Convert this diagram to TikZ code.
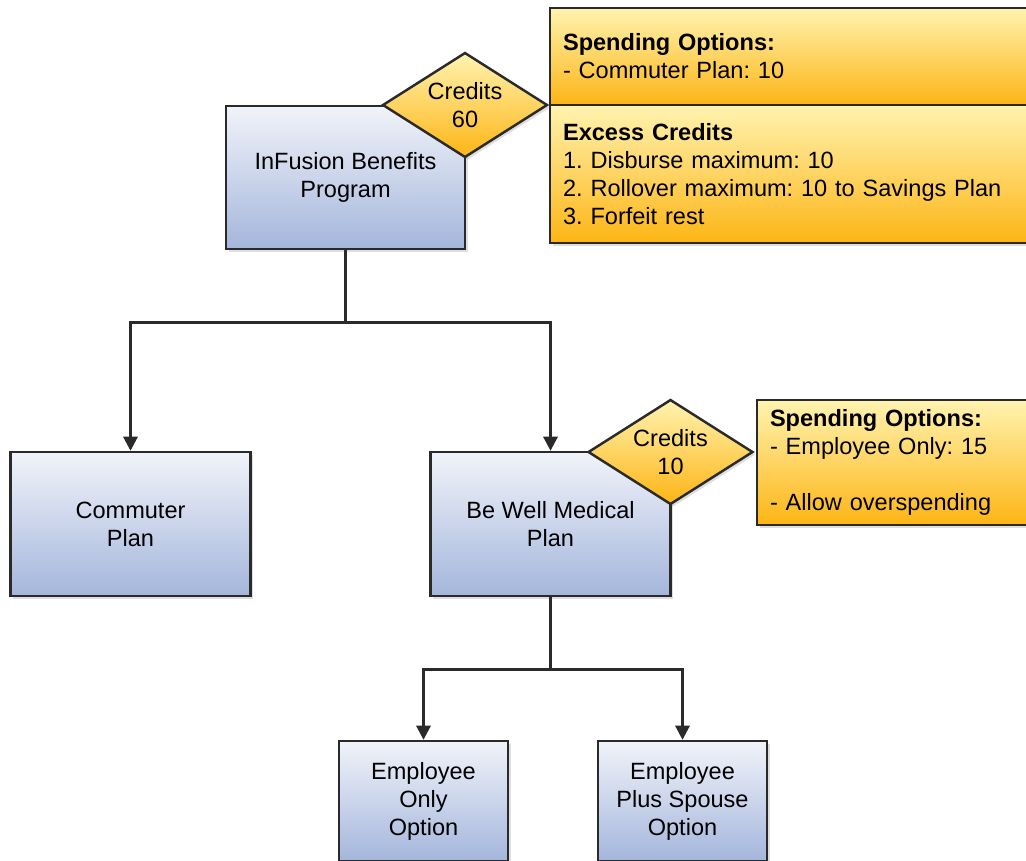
\documentclass[tikz,border=0pt]{standalone}
\usepackage{fontspec}
\setmainfont{Liberation Sans}
\usetikzlibrary{shapes.geometric,arrows.meta,shadows}
\definecolor{bluetop}{HTML}{F1F3F9}
\definecolor{bluebot}{HTML}{A4B6DC}
\definecolor{yeltop}{HTML}{FFF3B0}
\definecolor{yelbot}{HTML}{FDB515}
\definecolor{linegray}{HTML}{2A2A2A}
\tikzset{
  plan/.style={draw=linegray, line width=1.4pt, top color=bluetop, bottom color=bluebot,
    align=center, inner sep=0pt, drop shadow={shadow xshift=1.5pt, shadow yshift=-1.5pt, opacity=0.25}},
  credits/.style={diamond, aspect=1.57, draw=linegray, line width=1.4pt, top color=yeltop, bottom color=yelbot,
    align=center, inner sep=0pt, minimum width=3.3cm, minimum height=2.1cm,
    drop shadow={shadow xshift=1.5pt, shadow yshift=-1.5pt, opacity=0.25}},
  note/.style={draw=linegray, line width=1.4pt, top color=yeltop, bottom color=yelbot,
    align=left, inner xsep=0.26cm, inner ysep=0pt,
    drop shadow={shadow xshift=1.5pt, shadow yshift=-1.5pt, opacity=0.25}},
  trunk/.style={draw=linegray, line width=1.6pt},
  link/.style={trunk, -{Triangle[length=8pt,width=8pt]}}
}
\begin{document}
\frenchspacing
\begin{tikzpicture}[x=0.02cm, y=-0.02cm, font=\fontsize{13.4}{16}\selectfont]
      \clip (0,0) rectangle (1026,860);
      \node[note, minimum width=9.8cm, minimum height=1.94cm, text width=9.28cm] (spend1) at (795,56.5)
        {\textbf{Spending Options:}\\- Commuter Plan: 10};
      \node[note, minimum width=9.8cm, minimum height=2.76cm, text width=9.28cm] (excess) at (795,174)
        {\textbf{Excess Credits}\\1. Disburse maximum: 10\\2. Rollover maximum: 10 to Savings Plan\\3. Forfeit rest};
      \node[plan, minimum width=4.78cm, minimum height=2.86cm] (prog) at (345.5,177.5) {InFusion Benefits\\Program};
      \node[credits] (c60) at (465,105) {Credits\\60};
      \node[plan, minimum width=4.8cm, minimum height=2.88cm] (comm) at (130.5,524) {Commuter\\Plan};
      \node[plan, minimum width=4.8cm, minimum height=2.88cm] (well) at (550.5,524) {Be Well Medical\\Plan};
      \node[note, minimum width=5.66cm, minimum height=2.5cm, text width=5.14cm] (spend2) at (898.5,462.5)
        {\textbf{Spending Options:}\\- Employee Only: 15\\[16pt]- Allow overspending};
      \node[credits] (c10) at (670.5,452) {Credits\\10};
      \node[plan, minimum width=3.38cm, minimum height=2.4cm] (empl) at (423.5,801) {Employee\\Only\\Option};
      \node[plan, minimum width=3.38cm, minimum height=2.4cm] (spouse) at (682.5,801) {Employee\\Plus Spouse\\Option};
      \draw[trunk] (prog.south) -- ++(0,72) coordinate (split1);
      \draw[link] (split1) -| (comm.north);
      \draw[link] (split1) -| (well.north);
      \draw[trunk] (well.south) -- ++(0,72) coordinate (split2);
      \draw[link] (split2) -| (empl.north);
      \draw[link] (split2) -| (spouse.north);
    \end{tikzpicture}
\end{document}
